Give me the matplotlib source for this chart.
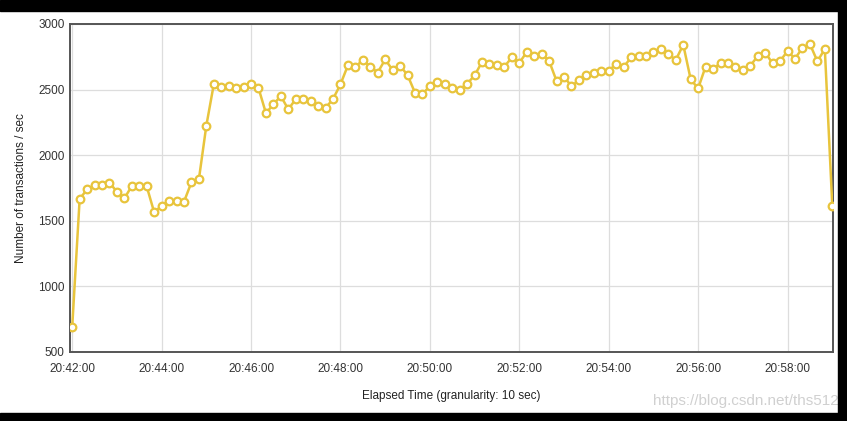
"""Transactions per second over time, JMeter-style line with open circle markers."""
import matplotlib
matplotlib.use("Agg")
import matplotlib.pyplot as plt
from matplotlib.patches import Rectangle
from matplotlib.ticker import FixedLocator, FuncFormatter

plt.rcParams["font.family"] = ["Liberation Sans", "DejaVu Sans"]

START_SEC = 20 * 3600 + 42 * 60   # 20:42:00
STEP = 10                         # granularity, seconds

tps = [
    690, 1666, 1740, 1770, 1775, 1790, 1722, 1671, 1765, 1762,
    1762, 1565, 1613, 1653, 1653, 1645, 1793, 1816, 2225, 2540,
    2517, 2527, 2515, 2520, 2540, 2512, 2320, 2388, 2451, 2349,
    2428, 2430, 2410, 2377, 2360, 2428, 2540, 2685, 2672, 2726,
    2675, 2630, 2730, 2649, 2682, 2611, 2476, 2466, 2527, 2556,
    2540, 2515, 2500, 2545, 2608, 2711, 2695, 2690, 2675, 2745,
    2704, 2786, 2753, 2774, 2718, 2566, 2599, 2525, 2573, 2611,
    2624, 2645, 2645, 2694, 2672, 2745, 2753, 2753, 2786, 2809,
    2771, 2726, 2842, 2578, 2509, 2676, 2657, 2702, 2703, 2675,
    2648, 2682, 2756, 2781, 2700, 2718, 2794, 2735, 2819, 2847,
    2716, 2809, 1615,
]
times = [START_SEC + i * STEP for i in range(len(tps))]

y_ticks = [500, 1000, 1500, 2000, 2500, 3000]
x_ticks = [START_SEC + m * 60 for m in range(0, 17, 2)]


def hms(v, _pos=None):
    v = int(round(v))
    return f"{v // 3600:02d}:{(v % 3600) // 60:02d}:{v % 60:02d}"


fig = plt.figure(figsize=(8.47, 4.21), dpi=100)
ax = fig.add_axes([0.0826, 0.1639, 0.9009, 0.7791])

ax.plot(times, tps, "-", color="#E8C43C", lw=1.8, zorder=3,
        marker="o", ms=5.5, mfc="white", mec="#E8C43C", mew=1.6)

ax.set_xlim(times[0] - 3, times[-1] + 1)
ax.set_ylim(500, 3000)
ax.xaxis.set_major_locator(FixedLocator(x_ticks))
ax.xaxis.set_major_formatter(FuncFormatter(hms))
ax.yaxis.set_major_locator(FixedLocator(y_ticks))

ax.grid(True, color="#dddddd", lw=0.9)
ax.set_axisbelow(True)
for sp in ax.spines.values():
    sp.set_color("#555555")
    sp.set_linewidth(1.4)
ax.tick_params(length=0, labelsize=8.5, colors="#333333")
ax.tick_params(axis="y", pad=4)
ax.tick_params(axis="x", pad=8)

ax.set_ylabel("Number of transactions / sec", fontsize=8.5, color="#222222", labelpad=8)
ax.set_xlabel("Elapsed Time (granularity: 10 sec)", fontsize=8.5, color="#222222", labelpad=11)

# screenshot frame + watermark
fig.patches.append(Rectangle((0, 1 - 11 / 421), 1, 11 / 421, transform=fig.transFigure,
                             color="black", zorder=10))
fig.patches.append(Rectangle((0, 0), 1, 8 / 421, transform=fig.transFigure,
                             color="black", zorder=10))
fig.patches.append(Rectangle((1 - 9 / 847, 0), 9 / 847, 1, transform=fig.transFigure,
                             color="black", zorder=10))
fig.text(0.99, 0.03, "https://blog.csdn.net/ths512", ha="right", va="bottom",
         fontsize=11, color="#d0d0d0")

fig.savefig("out.png", dpi=100)
